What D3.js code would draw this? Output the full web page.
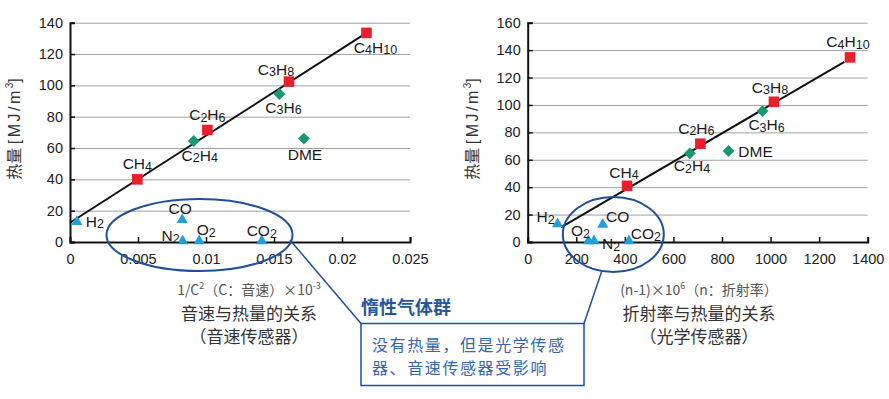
<!DOCTYPE html>
<html>
<head>
<meta charset="utf-8">
<script src="https://cdn.jsdelivr.net/npm/d3@7"></script>
<style>
  body { margin: 0; background: #fff; }
  svg { display: block; font-family: "Liberation Sans", Arial, "Noto Sans CJK SC", sans-serif; }
  .cjk { font-family: "Noto Sans CJK SC", sans-serif; }
</style>
</head>
<body>
<svg id="chart" width="889" height="399"></svg>
<script>
// gases, marker type, and the two measured relations

var gases  = ["H2", "CH4", "C2H4", "C2H6", "C3H6", "C3H8", "C4H10", "DME", "CO", "N2", "O2", "CO2"];
var marks  = ["tri", "sq", "dia", "sq", "dia", "sq", "sq", "dia", "tri", "tri", "tri", "tri"];

// speed of sound: 1/C^2
var soundX = [0.0005, 0.00495, 0.0091, 0.0101, 0.0154, 0.0161, 0.0218, 0.0172, 0.00825, 0.00828, 0.0095, 0.0141];
var soundY = [12.3, 40, 64.5, 71.5, 94.5, 102.4, 133.5, 66, 13.5, 0, 0, 0];
var soundFitX = [0, 0.0218];
var soundFitY = [12.3, 133.5];
var soundXTicks = [0, 0.005, 0.01, 0.015, 0.02, 0.025];
var soundYTicks = [0, 20, 40, 60, 80, 100, 120, 140];

// refractive index: (n-1) x 10^6
var refrX = [123, 409, 668, 711, 967, 1014, 1327, 827, 309, 273, 250, 417];
var refrY = [12.4, 41, 64.7, 71.7, 95.5, 102.3, 134.7, 66.4, 12, 0, 0, 0];
var refrFitX = [137, 1304];
var refrFitY = [10.7, 131.5];
var refrXTicks = [0, 200, 400, 600, 800, 1000, 1200, 1400];
var refrYTicks = [0, 20, 40, 60, 80, 100, 120, 140, 160];

var colors = { sq: "#e8202b", dia: "#17996b", tri: "#1f9fdc" };
var blue = "#1f4f98";

// label offsets from the point (layout only)
var soundLabelPos = {
  H2: [18, -1], CH4: [0, -15], C2H4: [6, 15], C2H6: [0, -15], C3H6: [4, 14], C3H8: [-13, -12],
  C4H10: [9, 15], DME: [1, 16], CO: [-2, -12], N2: [-12, -6], O2: [7, -12], CO2: [0, -11]
};
var refrLabelPos = {
  H2: [-12, -8], CH4: [-3, -13], C2H4: [2, 13], C2H6: [-4, -15], C3H6: [4, 14], C3H8: [-4, -14],
  C4H10: [-2, -15], DME: [27, 1], CO: [15, -9], N2: [17, 2], O2: [-8, -11], CO2: [17, -8]
};

var svg = d3.select("#chart");

var diamond = {
  draw: function (ctx, size) {
    var r = Math.sqrt(size / 2);
    ctx.moveTo(0, -r); ctx.lineTo(r, 0); ctx.lineTo(0, r); ctx.lineTo(-r, 0); ctx.closePath();
  }
};

function drawPanel(opt) {
  var x = d3.scaleLinear().domain(opt.xDomain).range([opt.left, opt.right]);
  var y = d3.scaleLinear().domain(opt.yDomain).range([242, 22.7]);
  var g = svg.append("g");

  // gridlines
  g.append("g")
    .attr("transform", "translate(" + opt.left + ",0)")
    .call(d3.axisLeft(y).tickValues(opt.yTicks).tickSize(-(opt.right - opt.left)).tickFormat(""))
    .call(function (s) {
      s.select(".domain").remove();
      s.selectAll("line").attr("stroke", "#a0a0a0").attr("stroke-width", 1);
    });

  // y axis
  g.append("g")
    .attr("transform", "translate(" + opt.left + ",0)")
    .call(d3.axisLeft(y).tickValues(opt.yTicks).tickSize(-5).tickPadding(7))
    .call(function (s) {
      s.select(".domain").attr("stroke", "#111").attr("stroke-width", 2);
      s.selectAll("line").attr("stroke", "#111").attr("stroke-width", 1.5);
      s.selectAll("text").attr("font-size", 14.5).attr("fill", "#222")
        .attr("font-family", "Liberation Sans, Arial, sans-serif");
    });

  // x axis
  g.append("g")
    .attr("transform", "translate(0,242)")
    .call(d3.axisBottom(x).tickValues(opt.xTicks).tickSize(-5).tickPadding(12)
      .tickFormat(function (d) { return String(d); }))
    .call(function (s) {
      s.select(".domain").attr("stroke", "#111").attr("stroke-width", 2);
      s.selectAll("line").attr("stroke", "#111").attr("stroke-width", 1.5);
      s.selectAll("text").attr("font-size", 14.5).attr("fill", "#222")
        .attr("font-family", "Liberation Sans, Arial, sans-serif");
    });

  // fit line
  var fit = d3.zip(opt.fitX, opt.fitY);
  g.append("path")
    .attr("d", d3.line().x(function (d) { return x(d[0]); }).y(function (d) { return y(d[1]); })(fit))
    .attr("fill", "none").attr("stroke", "#111").attr("stroke-width", 2);

  // points
  var pts = gases.map(function (name, i) {
    return { name: name, mark: marks[i], x: opt.xs[i], y: opt.ys[i] };
  });
  var sym = { sq: d3.symbolSquare, dia: diamond, tri: d3.symbolTriangle };
  var size = { sq: 112, dia: 70, tri: 54 };
  g.selectAll("path.pt").data(pts).enter().append("path")
    .attr("class", "pt")
    .attr("transform", function (d) {
      var ty = d.mark === "tri" ? y(d.y) - 1 : y(d.y);
      return "translate(" + x(d.x) + "," + ty + ")";
    })
    .attr("d", function (d) { return d3.symbol().type(sym[d.mark]).size(size[d.mark])(); })
    .attr("fill", function (d) { return colors[d.mark]; });

  // labels with subscript digits
  var lab = g.selectAll("text.lab").data(pts).enter().append("text")
    .attr("class", "lab")
    .attr("x", function (d) { return x(d.x) + opt.labelPos[d.name][0]; })
    .attr("y", function (d) { return y(d.y) + opt.labelPos[d.name][1] + 5; })
    .attr("text-anchor", "middle")
    .attr("font-size", 15.5)
    .attr("fill", "#1a1a1a");
  lab.each(function (d) {
    var t = d3.select(this);
    var parts = d.name.split(/(\d+)/).filter(function (p) { return p.length; });
    var down = false;
    parts.forEach(function (p) {
      var isNum = /^\d+$/.test(p);
      var ts = t.append("tspan").text(p);
      if (isNum) { ts.attr("font-size", 12.5).attr("dy", down ? 0 : 1.5); down = true; }
      else { ts.attr("dy", down ? -1.5 : 0); down = false; }
    });
  });

  // y axis title
  g.append("text")
    .attr("transform", "translate(" + opt.yTitleX + ",129) rotate(-90)")
    .attr("text-anchor", "middle")
    .attr("font-size", 16)
    .attr("fill", "#333")
    .call(function (t) {
      t.append("tspan").attr("class", "cjk").text("热量 ");
      t.append("tspan").attr("letter-spacing", 2.5).text("[MJ/m");
      t.append("tspan").attr("font-size", 10).attr("dy", -7).text("3");
      t.append("tspan").attr("dy", 7).text("]");
    });

  // captions
  var cx = opt.captionX;
  g.append("text").attr("class", "cjk")
    .attr("x", cx).attr("y", 295).attr("text-anchor", "middle")
    .attr("font-size", 14).attr("fill", "#555")
    .call(opt.unitText);
  g.append("text").attr("class", "cjk")
    .attr("x", cx).attr("y", 320).attr("text-anchor", "middle")
    .attr("font-size", 17).attr("fill", "#333").text(opt.caption1);
  g.append("text").attr("class", "cjk")
    .attr("x", cx).attr("y", 343).attr("text-anchor", "middle")
    .attr("font-size", 17).attr("fill", "#333").text(opt.caption2);

  return { x: x, y: y };
}

drawPanel({
  left: 70, right: 410, xDomain: [0, 0.025], yDomain: [0, 140],
  xTicks: soundXTicks, yTicks: soundYTicks,
  xs: soundX, ys: soundY, fitX: soundFitX, fitY: soundFitY,
  labelPos: soundLabelPos, yTitleX: 20, captionX: 249,
  caption1: "音速与热量的关系", caption2: "（音速传感器）",
  unitText: function (t) {
    t.append("tspan").text("1/C");
    t.append("tspan").attr("font-size", 9).attr("dy", -6).text("2");
    t.append("tspan").attr("dy", 6).text("（C：音速）×10");
    t.append("tspan").attr("font-size", 9).attr("dy", -6).text("-3");
  }
});

drawPanel({
  left: 527.7, right: 867.7, xDomain: [0, 1400], yDomain: [0, 160],
  xTicks: refrXTicks, yTicks: refrYTicks,
  xs: refrX, ys: refrY, fitX: refrFitX, fitY: refrFitY,
  labelPos: refrLabelPos, yTitleX: 478, captionX: 699,
  caption1: "折射率与热量的关系", caption2: "（光学传感器）",
  unitText: function (t) {
    t.append("tspan").text("(n-1)×10");
    t.append("tspan").attr("font-size", 9).attr("dy", -6).text("6");
    t.append("tspan").attr("dy", 6).text("（n：折射率）");
  }
});

// inert gas callout
var call = svg.append("g");
call.append("ellipse").attr("cx", 199.5).attr("cy", 235).attr("rx", 93).attr("ry", 36)
  .attr("fill", "none").attr("stroke", blue).attr("stroke-width", 2);
call.append("ellipse").attr("cx", 613.3).attr("cy", 234.5).attr("rx", 50.5).attr("ry", 37.5)
  .attr("fill", "none").attr("stroke", blue).attr("stroke-width", 2);
call.append("line").attr("x1", 290).attr("y1", 240).attr("x2", 361).attr("y2", 323.5)
  .attr("stroke", blue).attr("stroke-width", 1.5);
call.append("line").attr("x1", 601.5).attr("y1", 272).attr("x2", 584).attr("y2", 323.5)
  .attr("stroke", blue).attr("stroke-width", 1.5);
call.append("rect").attr("x", 361).attr("y", 323.5).attr("width", 223).attr("height", 62)
  .attr("fill", "#fff").attr("stroke", blue).attr("stroke-width", 1.5);
call.append("text").attr("class", "cjk").attr("x", 361).attr("y", 314)
  .attr("font-size", 18).attr("font-weight", "bold").attr("fill", "#2556a0").text("惰性气体群");
call.append("text").attr("class", "cjk").attr("x", 372).attr("y", 351)
  .attr("font-size", 16).attr("fill", "#3565ad").attr("letter-spacing", 1.6).text("没有热量，但是光学传感");
call.append("text").attr("class", "cjk").attr("x", 372).attr("y", 374)
  .attr("font-size", 16).attr("fill", "#3565ad").attr("letter-spacing", 1.6).text("器、音速传感器受影响");
</script>
</body>
</html>
